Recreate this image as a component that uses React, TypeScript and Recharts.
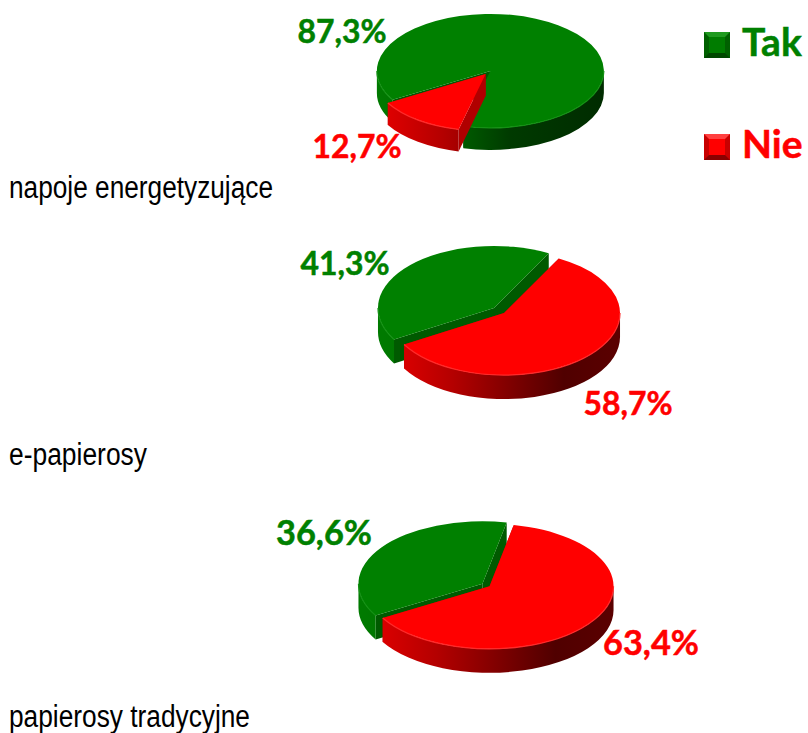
import React from 'react';
import { PieChart, Pie, Legend } from 'recharts';

const seriesNames = ['Tak', 'Nie'];
const seriesColors = ['#008000', '#ff0000'];
const energyDrinks = [87.3, 12.7];
const eCigarettes = [41.3, 58.7];
const cigarettes = [36.6, 63.4];
const groupNames = ['napoje energetyzujące', 'e-papierosy', 'papierosy tradycyjne'];

// pie placement, the pies are drawn squashed so recharts only gives the angles
const layouts = [
  { values: energyDrinks, cx: 488, cy: 72.5, rx: 113.5, ry: 57, depth: 22, explode: 0.035, font: 33,
    labels: [[342, 43], [357, 158]], widths: [89, 89], title: [9, 198, 264] },
  { values: eCigarettes, cx: 499, cy: 310.5, rx: 116, ry: 62, depth: 24, explode: 0.06, font: 33,
    labels: [[345, 275], [628, 415]], widths: [89, 89], title: [9, 465, 138] },
  { values: cigarettes, cx: 486, cy: 585, rx: 124, ry: 62.5, depth: 24, explode: 0.035, font: 35,
    labels: [[324, 545], [651, 655]], widths: [96, 96], title: [9, 727, 241] },
];

const rad = (a: number) => (a * Math.PI) / 180;

const wallStops = [
  [
    ['0%', '#007a00'],
    ['30%', '#006800'],
    ['60%', '#003a00'],
    ['100%', '#002c00'],
  ],
  [
    ['0%', '#e80000'],
    ['30%', '#b40000'],
    ['62%', '#700000'],
    ['78%', '#500000'],
    ['100%', '#5a0000'],
  ],
];
const cutColors = ['#005a00', '#b00000'];
const rimColors = ['#149014', '#ff2a2a'];

const Slice3D = (props: any, pieIndex: number) => {
  const { startAngle, endAngle, index } = props;
  const l = layouts[pieIndex];
  const hi = Math.max(startAngle, endAngle);
  const lo = Math.min(startAngle, endAngle);
  const mid = (hi + lo) / 2;
  const ox = l.cx + l.rx * l.explode * Math.cos(rad(mid));
  const oy = l.cy - l.ry * l.explode * Math.sin(rad(mid));
  const pt = (a: number, dy = 0) => [ox + l.rx * Math.cos(rad(a)), oy - l.ry * Math.sin(rad(a)) + dy];
  const p1 = pt(hi);
  const p2 = pt(lo);
  const large = hi - lo > 180 ? 1 : 0;
  const top = `M${ox},${oy} L${p1[0]},${p1[1]} A${l.rx},${l.ry} 0 ${large} 1 ${p2[0]},${p2[1]} Z`;

  // parts of the arc on the front half of the pie
  const fronts: [number, number][] = [];
  for (const k of [-360, 0, 360]) {
    const a = Math.max(lo, 180 + k);
    const b = Math.min(hi, 360 + k);
    if (b > a) fronts.push([a, b]);
  }
  const cut = (a: number) => {
    const p = pt(a);
    return `M${ox},${oy} L${p[0]},${p[1]} L${p[0]},${p[1] + l.depth} L${ox},${oy + l.depth} Z`;
  };

  return (
    <g key={index}>
      <path d={cut(hi)} fill={cutColors[index]} />
      <path d={cut(lo)} fill={cutColors[index]} />
      {fronts.map(([a, b]) => {
        const s = pt(a);
        const e = pt(b);
        const big = b - a > 180 ? 1 : 0;
        return (
          <path
            key={a}
            d={`M${s[0]},${s[1]} A${l.rx},${l.ry} 0 ${big} 0 ${e[0]},${e[1]} L${e[0]},${e[1] + l.depth} A${l.rx},${l.ry} 0 ${big} 1 ${s[0]},${s[1] + l.depth} Z`}
            fill={`url(#wall-${pieIndex}-${index})`}
          />
        );
      })}
      <path d={top} fill={seriesColors[index]} />
      {fronts.map(([a, b]) => {
        const s = pt(a);
        const e = pt(b);
        return (
          <path
            key={a}
            d={`M${s[0]},${s[1]} A${l.rx},${l.ry} 0 ${b - a > 180 ? 1 : 0} 0 ${e[0]},${e[1]}`}
            fill="none"
            stroke={rimColors[index]}
            strokeWidth={1.2}
          />
        );
      })}
    </g>
  );
};

const PctLabel = (props: any, pieIndex: number) => {
  const l = layouts[pieIndex];
  const pos = l.labels[props.index];
  return (
    <text
      key={props.index}
      x={pos[0]}
      y={pos[1]}
      textAnchor="middle"
      fontFamily="Lato"
      fontWeight={700}
      fontSize={l.font}
      textLength={l.widths[props.index]}
      lengthAdjust="spacingAndGlyphs"
      stroke={seriesColors[props.index]}
      strokeWidth={0.5}
      fill={seriesColors[props.index]}
    >
      {l.values[props.index].toFixed(1).replace('.', ',') + '%'}
    </text>
  );
};

const legendShades = [
  { light: '#1f9a1f', dark: '#004800', side: '#006000', mid: '#007c00' },
  { light: '#ff4040', dark: '#8a0000', side: '#c80000', mid: '#ff0000' },
];

const LegendBox = () => (
  <svg width={104} height={170} style={{ display: 'block' }}>
    {seriesNames.map((name, i) => {
      const y = i === 0 ? 24 : 126;
      const s = legendShades[i];
      return (
        <g key={name}>
          <rect x={0} y={y} width={26} height={26} fill={s.side} />
          <polygon points={`0,${y} 26,${y} 21,${y + 5} 5,${y + 5}`} fill={s.light} />
          <polygon points={`0,${y + 26} 26,${y + 26} 21,${y + 21} 5,${y + 21}`} fill={s.dark} />
          <rect x={5} y={y + 5} width={16} height={16} fill={s.mid} />
          <text
            x={38}
            y={y + 24}
            fontFamily="Lato"
            fontWeight={700}
            fontSize={39}
            stroke={seriesColors[i]}
            strokeWidth={0.5}
            fill={seriesColors[i]}
          >
            {name}
          </text>
        </g>
      );
    })}
  </svg>
);

const App = () => (
  <div style={{ position: 'absolute', left: 0, top: 0 }}>
    <PieChart width={808} height={733} margin={{ top: 0, right: 0, bottom: 0, left: 0 }}>
      <defs>
        {layouts.map((l, p) =>
          wallStops.map((stops, s) => (
            <linearGradient
              key={`${p}-${s}`}
              id={`wall-${p}-${s}`}
              gradientUnits="userSpaceOnUse"
              x1={l.cx - l.rx}
              x2={l.cx + l.rx}
              y1={0}
              y2={0}
            >
              {stops.map(([o, c]) => (
                <stop key={o} offset={o} stopColor={c} />
              ))}
            </linearGradient>
          ))
        )}
      </defs>
      {layouts.map((l, p) => (
        <Pie
          key={p}
          data={l.values.map((v, i) => ({ name: seriesNames[i], value: v, fill: seriesColors[i] }))}
          dataKey="value"
          nameKey="name"
          cx={l.cx}
          cy={l.cy}
          outerRadius={l.rx}
          startAngle={210.5}
          endAngle={-149.5}
          stroke="none"
          isAnimationActive={false}
          shape={(props: any) => Slice3D(props, p)}
          label={(props: any) => PctLabel(props, p)}
          labelLine={false}
        />
      ))}
      {layouts.map((l, p) => (
        <text
          key={p}
          x={l.title[0]}
          y={l.title[1]}
          fontFamily="Liberation Sans"
          fontSize={31}
          textLength={l.title[2]}
          lengthAdjust="spacingAndGlyphs"
          fill="#000"
        >
          {groupNames[p]}
        </text>
      ))}
      <Legend
        content={LegendBox}
        wrapperStyle={{ position: 'absolute', left: 704, top: 8, width: 104, height: 170 }}
      />
    </PieChart>
  </div>
);

export default App;
